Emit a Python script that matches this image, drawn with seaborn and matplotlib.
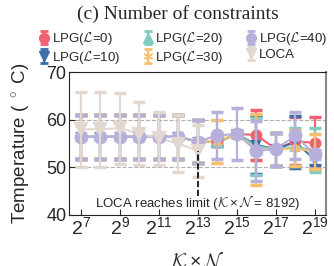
import numpy as np
import pandas as pd
import matplotlib
matplotlib.use("Agg")
import matplotlib.pyplot as plt
import seaborn as sns

# data
exps = [7, 8, 9, 10, 11, 12, 13, 14, 15, 16, 17, 18, 19]
loca_exps = [7, 8, 9, 10, 11, 12, 13]

lpg0_mean = [56.4, 56.4, 56.4, 56.4, 56.4, 56.4, 55.4, 55.3, 57.0, 56.8, 53.8, 55.5, 55.1]
lpg0_err = [4.6, 4.6, 4.6, 4.6, 4.6, 4.6, 4.5, 0.8, 0.6, 5.3, 3.5, 5.0, 5.5]
lpg10_mean = [56.4, 56.4, 56.4, 56.4, 56.4, 56.4, 55.4, 55.3, 57.0, 54.7, 53.8, 55.3, 51.6]
lpg10_err = [4.6, 4.6, 4.6, 4.6, 4.6, 4.6, 4.5, 0.8, 0.6, 6.0, 3.5, 5.4, 1.2]
lpg20_mean = [56.4, 56.4, 56.4, 56.4, 56.4, 56.4, 55.4, 55.3, 57.0, 54.4, 53.8, 54.3, 53.6]
lpg20_err = [4.6, 4.6, 4.6, 4.6, 4.6, 4.6, 4.5, 0.8, 0.6, 6.0, 3.5, 4.0, 4.6]
lpg30_mean = [56.4, 56.4, 56.4, 56.4, 56.4, 56.4, 55.4, 55.4, 57.0, 53.7, 53.8, 54.0, 53.3]
lpg30_err = [4.6, 4.6, 4.6, 4.6, 4.6, 4.6, 4.5, 4.5, 0.6, 7.5, 3.5, 3.8, 3.6]
lpg40_mean = [56.4, 56.4, 56.4, 56.4, 56.4, 56.4, 55.4, 56.7, 57.0, 53.5, 53.8, 56.7, 52.7]
lpg40_err = [4.6, 4.6, 4.6, 4.6, 4.6, 4.6, 4.5, 5.0, 5.5, 6.3, 3.5, 5.0, 1.0]
loca_mean = [58.0, 58.0, 58.2, 57.1, 56.1, 55.0, 53.4]
loca_err = [7.9, 7.9, 7.5, 6.6, 5.6, 5.9, 5.5]

names = ["LPG($\\mathcal{L}$=0)", "LPG($\\mathcal{L}$=10)", "LPG($\\mathcal{L}$=20)",
         "LPG($\\mathcal{L}$=30)", "LPG($\\mathcal{L}$=40)", "LOCA"]
colors = ["#f0606f", "#3b6ea8", "#7fcdc1", "#f7bf6c", "#b7b0dc", "#e3d8d0"]
markers = ["o", "v", "^", (6, 2, 0), "o", "v"]
msizes = [7, 6, 5.5, 6.5, 8.5, 8]

series = [(exps, lpg0_mean, lpg0_err), (exps, lpg10_mean, lpg10_err),
          (exps, lpg20_mean, lpg20_err), (exps, lpg30_mean, lpg30_err),
          (exps, lpg40_mean, lpg40_err), (loca_exps, loca_mean, loca_err)]

rows = []
for name, (e, m, s) in zip(names, series):
    for xi, yi, si in zip(e, m, s):
        rows.append({"method": name, "x": 2 ** xi, "y": yi, "err": si})
df = pd.DataFrame(rows)

sns.set_style("ticks")
plt.rcParams["font.family"] = ["Liberation Sans", "DejaVu Sans"]
plt.rcParams["mathtext.fontset"] = "custom"
plt.rcParams["mathtext.rm"] = "Liberation Sans"
plt.rcParams["mathtext.it"] = "Liberation Sans:italic"
plt.rcParams["mathtext.cal"] = "cmsy10"

fig = plt.figure(figsize=(3.34, 2.66), dpi=100)
ax = fig.add_axes([0.207, 0.192, 0.769, 0.537])

sns.lineplot(data=df, x="x", y="y", hue="method", palette=colors, hue_order=names,
             linewidth=1.5, legend=False, sort=False, ax=ax, estimator=None)

handles = []
for name, color, mk, ms in zip(names, colors, markers, msizes):
    d = df[df["method"] == name]
    ax.errorbar(d["x"], d["y"], yerr=d["err"], fmt="none", ecolor=color,
                elinewidth=1.6, capsize=4, capthick=2.5)
    ax.plot(d["x"], d["y"], linestyle="none", marker=mk, color=color,
            markersize=ms, markeredgewidth=1.5)
    h2 = ax.errorbar([np.nan], [np.nan], yerr=[1], fmt="o",
                     color=color, ecolor=color, elinewidth=1.6, capsize=3, capthick=2,
                     markersize=7, label=name)
    h2[0].set_marker(mk)
    handles.append(h2)

ax.set_xscale("log", base=2)
ax.set_xlim(2 ** 6.4, 2 ** 19.57)
ax.set_ylim(40, 70)
ax.set_yticks([40, 50, 60, 70])
ax.set_xticks([2 ** k for k in [7, 9, 11, 13, 15, 17, 19]])
ax.set_xticklabels([f"$2^{{{k}}}$" for k in [7, 9, 11, 13, 15, 17, 19]])
ax.minorticks_off()
ax.tick_params(direction="in", labelsize=13, length=4, pad=2)
ax.tick_params(axis="x", labelsize=14, pad=1)

for yg in [50, 60]:
    ax.axhline(yg, color="#b0b0b0", linestyle="--", linewidth=0.8, zorder=0)

for sp in ["left", "bottom", "top"]:
    ax.spines[sp].set_color("#222222")
ax.spines["right"].set_color("#888888")
ax.spines["right"].set_linewidth(1.5)

ax.vlines(2 ** 13, 43.9, 53.4, colors="black", linestyles="--", linewidth=1.2, zorder=5)
ax.text(2 ** 13, 42.7, "LOCA reaches limit ($\\mathcal{K}\\times\\mathcal{N}$ = 8192)",
        ha="center", va="center", fontsize=9.5)

ax.set_xlabel("$\\mathcal{K}\\times\\mathcal{N}$", fontsize=14)
ax.xaxis.set_label_coords(0.5, -0.255)
ax.set_ylabel("Temperature ( $^\\circ$ C)", fontsize=13.5)
ax.yaxis.set_label_coords(-0.14, 0.5)

ax.legend(handles=handles, labels=names, ncol=3, frameon=False, fontsize=9.5,
          loc="lower left", bbox_to_anchor=(-0.15, 0.99), handlelength=0.8,
          handletextpad=0.2, columnspacing=1.7, labelspacing=0.1, borderpad=0.1)

fig.text(0.532, 0.948, "(c) Number of constraints", ha="center", va="center",
         fontsize=14, family="Liberation Serif")

fig.savefig("out.png", dpi=100)
